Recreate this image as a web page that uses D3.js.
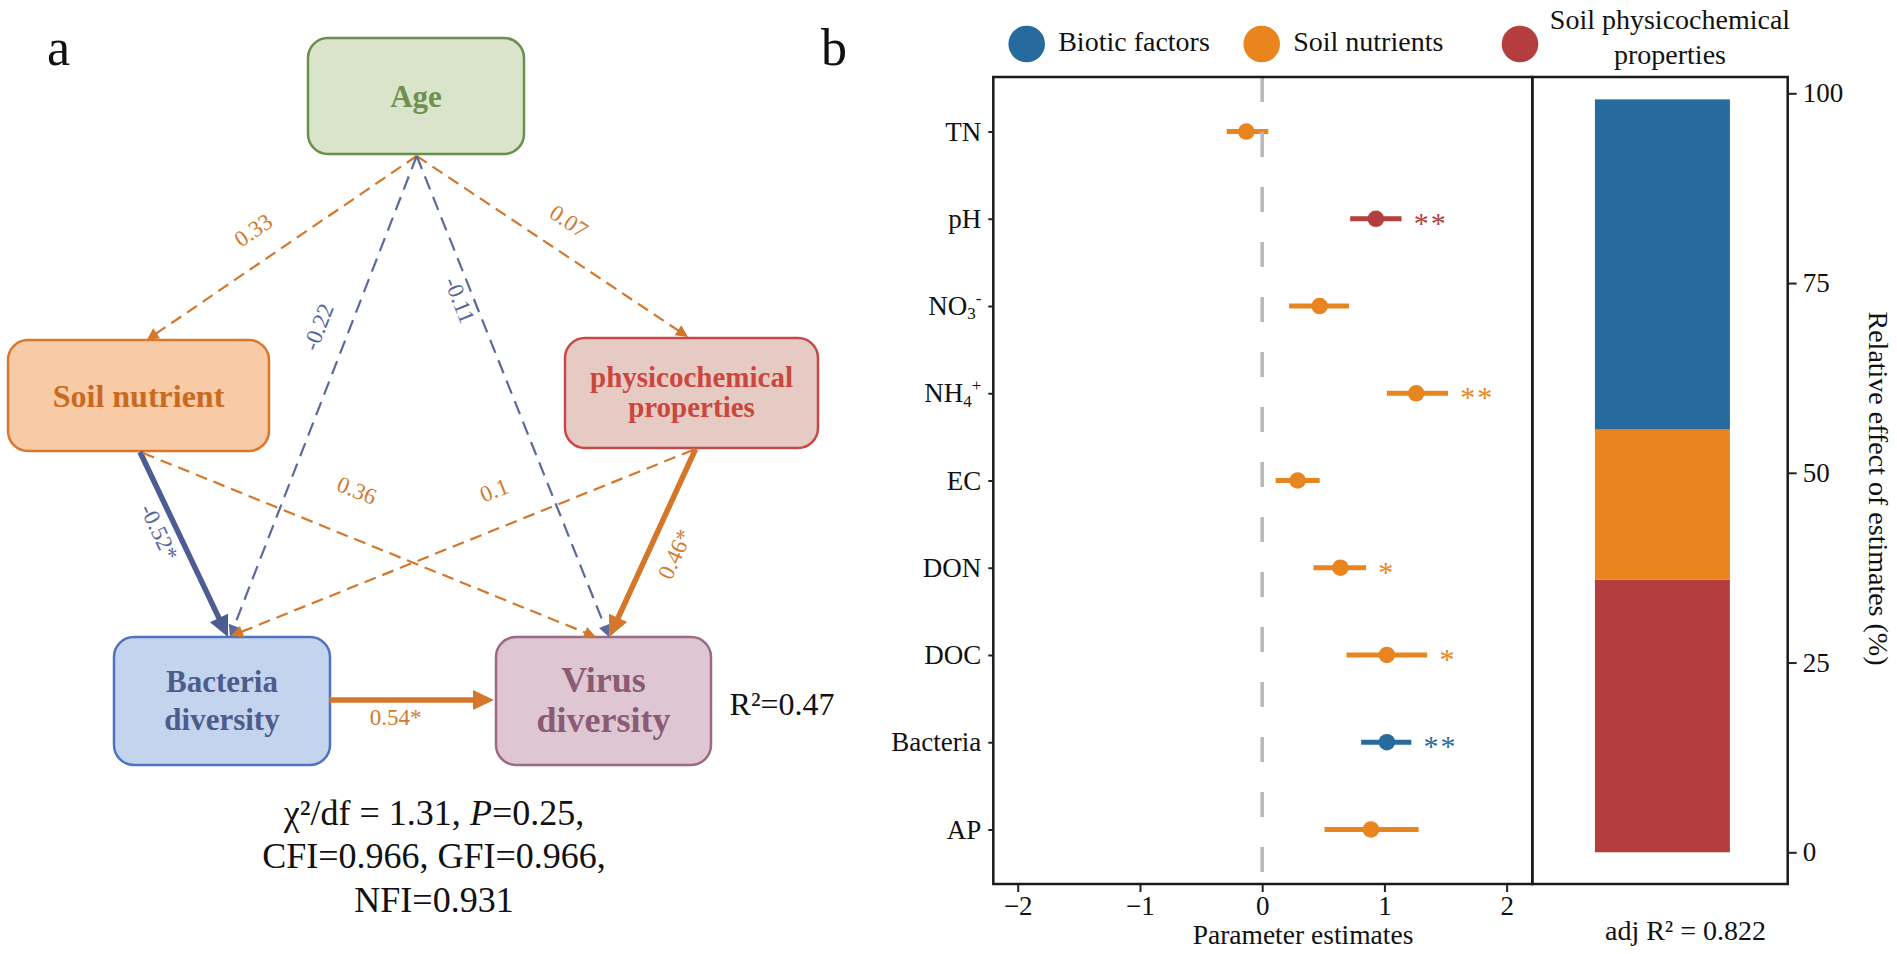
<!DOCTYPE html>
<meta charset="utf-8">
<head>
  <title>SEM of virus diversity and drivers of virus diversity</title>
  <script src="https://cdn.jsdelivr.net/npm/d3@7"></script>
  <style>
    body { margin: 0; background: #fff; }
    text { font-family: "Liberation Serif", "Times New Roman", serif; fill: #111; }
  </style>
</head>
<body>
<script>
// ---------- panel a : structural equation model ----------
var nodeLines = [["Age"], ["Soil nutrient"], ["physicochemical", "properties"], ["Bacteria", "diversity"], ["Virus", "diversity"]];
var pathFrom = [0, 0, 0, 0, 1, 1, 2, 2, 3];
var pathTo   = [1, 2, 3, 4, 3, 4, 3, 4, 4];
var pathCoef = [0.33, 0.07, -0.22, -0.11, -0.52, 0.36, 0.1, 0.46, 0.54];
var pathSig  = [false, false, false, false, true, false, false, true, true];
var virusR2 = 0.47;
var fitChiDf = 1.31, fitP = 0.25, fitCFI = 0.966, fitGFI = 0.966, fitNFI = 0.931;

// ---------- panel b : parameter estimates ----------
var factors  = ["TN", "pH", "NO3-", "NH4+", "EC", "DON", "DOC", "Bacteria", "AP"];
var estimate = [-0.13, 0.93, 0.47, 1.26, 0.29, 0.64, 1.02, 1.02, 0.89];
var lower    = [-0.29, 0.72, 0.22, 1.02, 0.11, 0.42, 0.69, 0.81, 0.51];
var upper    = [0.05, 1.14, 0.71, 1.52, 0.47, 0.85, 1.35, 1.22, 1.28];
var signif   = ["", "**", "", "**", "", "*", "*", "**", ""];
var factorGroup = ["Soil nutrients", "Soil physicochemical properties", "Soil nutrients", "Soil nutrients",
                   "Soil nutrients", "Soil nutrients", "Soil nutrients", "Biotic factors", "Soil nutrients"];
var legendNames = ["Biotic factors", "Soil nutrients", "Soil physicochemical properties"];
var barGroups  = ["Soil physicochemical properties", "Soil nutrients", "Biotic factors"];
var relEffect  = [35.9, 19.8, 43.5];
var adjR2 = 0.822;

var groupColor = d3.scaleOrdinal()
  .domain(["Biotic factors", "Soil nutrients", "Soil physicochemical properties"])
  .range(["#276b9e", "#e8851f", "#b43e3e"]);

var svg = d3.select("body").append("svg")
  .attr("width", 1897).attr("height", 954);

// =============== panel a ===============
var ga = svg.append("g");
ga.append("text").attr("x", 47).attr("y", 65).attr("font-size", 52).text("a");

// box layout (position + styling only)
var boxLayout = [
  {x: 308, y: 38,  w: 216, h: 116, fill: "#d9e4ca", stroke: "#69904a", ink: "#6c9150", fs: 31, base: [107]},
  {x: 8,   y: 340, w: 261, h: 111, fill: "#f8cba6", stroke: "#d9772b", ink: "#c96a20", fs: 32, base: [407]},
  {x: 565, y: 338, w: 253, h: 110, fill: "#e6cbc4", stroke: "#c84848", ink: "#cb463c", fs: 29, base: [387, 417]},
  {x: 114, y: 637, w: 216, h: 128, fill: "#c4d4ee", stroke: "#5073c0", ink: "#4e5c8c", fs: 31, base: [692, 730]},
  {x: 496, y: 637, w: 215, h: 128, fill: "#dfc6d3", stroke: "#9c6b83", ink: "#8b5b74", fs: 36, base: [692, 732]}
];

// arrow endpoints and label placement [x1, y1, x2, y2, labelX, labelY, rotation]
var edgeGeom = [
  [416.7, 156, 146.7, 340, 253, 230, -34.5],
  [416.7, 156, 688, 337, 569, 221, 34],
  [416.7, 156, 230, 637, 318, 327, -68.5],
  [416.7, 156, 609, 637, 460, 300, 68.3],
  [140, 452, 228, 637, 159.5, 532, 64.5],
  [143, 453, 596, 637, 357, 490, 22],
  [693, 450, 231, 636, 494, 490, -22],
  [695.6, 449, 609.3, 637, 674.7, 554, -65.5],
  [329.5, 700, 494, 700, 395.7, 717, 0]
];

var boxes = ga.selectAll("g.node").data(nodeLines).enter().append("g").attr("class", "node");
boxes.append("rect")
  .attr("x", function(d, i) { return boxLayout[i].x; })
  .attr("y", function(d, i) { return boxLayout[i].y; })
  .attr("width", function(d, i) { return boxLayout[i].w; })
  .attr("height", function(d, i) { return boxLayout[i].h; })
  .attr("rx", 20).attr("ry", 20)
  .attr("fill", function(d, i) { return boxLayout[i].fill; })
  .attr("stroke", function(d, i) { return boxLayout[i].stroke; })
  .attr("stroke-width", 2.5);
boxes.each(function(lines, i) {
  var b = boxLayout[i];
  lines.forEach(function(t, k) {
    d3.select(this).append("text")
      .attr("x", b.x + b.w / 2).attr("y", b.base[k])
      .attr("text-anchor", "middle")
      .attr("font-size", b.fs).attr("font-weight", "bold")
      .style("fill", b.ink)
      .text(t);
  }, this);
});

// paths
var edges = ga.append("g");
pathCoef.forEach(function(c, i) {
  var g = edgeGeom[i];
  var neg = c < 0, sig = pathSig[i];
  var col = neg ? (sig ? "#4d5d93" : "#5a6a9e") : "#d4772a";
  var L = sig ? 21 : 12, W = sig ? 10 : 6;
  var dx = g[2] - g[0], dy = g[3] - g[1], len = Math.sqrt(dx * dx + dy * dy);
  var ux = dx / len, uy = dy / len, nx = -uy, ny = ux;
  edges.append("line")
    .attr("x1", g[0]).attr("y1", g[1])
    .attr("x2", g[2] - ux * L * 0.8).attr("y2", g[3] - uy * L * 0.8)
    .attr("stroke", col)
    .attr("stroke-width", sig ? 5.5 : 2.2)
    .attr("stroke-dasharray", sig ? null : (neg ? "14,8" : "12,7"));
  var bx = g[2] - ux * L, by = g[3] - uy * L;
  edges.append("path")
    .attr("d", "M" + g[2] + "," + g[3] + "L" + (bx + nx * W) + "," + (by + ny * W) +
               "L" + (bx - nx * W) + "," + (by - ny * W) + "Z")
    .attr("fill", col);
  edges.append("text")
    .attr("transform", "translate(" + g[4] + "," + g[5] + ") rotate(" + g[6] + ")")
    .attr("text-anchor", "middle").attr("dy", "0.35em")
    .attr("font-size", 23)
    .style("fill", neg ? "#56669b" : "#d27a2c")
    .text(String(c) + (sig ? "*" : ""));
});

ga.append("text").attr("x", 729.6).attr("y", 715).attr("font-size", 32)
  .text("R²=" + virusR2);

var fit = ga.append("g").attr("font-size", 36).attr("text-anchor", "middle");
var l1 = fit.append("text").attr("x", 434).attr("y", 825);
l1.append("tspan").text("χ²/df = " + fitChiDf + ", ");
l1.append("tspan").attr("font-style", "italic").text("P");
l1.append("tspan").text("=" + fitP + ",");
fit.append("text").attr("x", 434).attr("y", 868.3)
  .text("CFI=" + fitCFI + ", GFI=" + fitGFI + ",");
fit.append("text").attr("x", 434).attr("y", 911.7).text("NFI=" + fitNFI);

// =============== panel b ===============
var gb = svg.append("g");
gb.append("text").attr("x", 821).attr("y", 65).attr("font-size", 52).text("b");

var plotL = 993.3, plotM = 1532.3, plotR = 1787.7, plotT = 77, plotB = 884;

var x = d3.scaleLinear().domain([-2.2, 2.21]).range([plotL, plotM]);
var y = d3.scalePoint().domain(factors).range([plotT, plotB]).padding(0.625);

// forest marks
var rows = gb.append("g").selectAll("g").data(factors).enter().append("g");
rows.append("line")
  .attr("x1", function(d, i) { return x(lower[i]); })
  .attr("x2", function(d, i) { return x(upper[i]); })
  .attr("y1", function(d) { return y(d); })
  .attr("y2", function(d) { return y(d); })
  .attr("stroke", function(d, i) { return groupColor(factorGroup[i]); })
  .attr("stroke-width", 5);
rows.append("circle")
  .attr("cx", function(d, i) { return x(estimate[i]); })
  .attr("cy", function(d) { return y(d); })
  .attr("r", 8.3)
  .attr("fill", function(d, i) { return groupColor(factorGroup[i]); });
rows.append("text")
  .attr("x", function(d, i) { return x(upper[i] + 0.1); })
  .attr("y", function(d) { return y(d) + 14; })
  .attr("font-size", 30)
  .attr("letter-spacing", 2)
  .style("fill", function(d, i) { return groupColor(factorGroup[i]); })
  .text(function(d, i) { return signif[i]; });

gb.append("line")
  .attr("x1", x(0)).attr("x2", x(0)).attr("y1", plotT).attr("y2", plotB)
  .attr("stroke", "#b8b8b8").attr("stroke-width", 3.5)
  .attr("stroke-dasharray", "25,30");

// axes
var yAxis = gb.append("g").attr("transform", "translate(" + plotL + ",0)")
  .call(d3.axisLeft(y).tickSize(5).tickPadding(7));
yAxis.selectAll("text").attr("font-size", 27).style("fill", "#111")
  .each(function(d) {
    var m = /^(N[OH])(\d)([+-])$/.exec(d);
    if (!m) return;
    var t = d3.select(this).text("");
    t.append("tspan").text(m[1]);
    t.append("tspan").attr("font-size", 17).attr("dy", "0.25em").text(m[2]);
    t.append("tspan").attr("font-size", 17).attr("dy", "-0.9em").text(m[3]);
  });

var xAxis = gb.append("g").attr("transform", "translate(0," + plotB + ")")
  .call(d3.axisBottom(x).tickValues([-2, -1, 0, 1, 2]).tickSize(8).tickPadding(4).tickFormat(d3.format("d")));
xAxis.selectAll("text").attr("font-size", 27).style("fill", "#111");

// stacked relative effect bar
var yb = d3.scaleLinear().domain([0, 100]).range([852.3, 93.3]);
var xb = d3.scaleBand().domain(["adj"]).range([plotM, plotR]).paddingOuter(0.446).align(0.52);
var row = {};
barGroups.forEach(function(g, i) { row[g] = relEffect[i]; });
var stacked = d3.stack().keys(barGroups)([row]);
gb.append("g").selectAll("rect").data(stacked).enter().append("rect")
  .attr("x", xb("adj")).attr("width", xb.bandwidth())
  .attr("y", function(s) { return yb(s[0][1]); })
  .attr("height", function(s) { return yb(s[0][0]) - yb(s[0][1]); })
  .attr("fill", function(s) { return groupColor(s.key); });

var rAxis = gb.append("g").attr("transform", "translate(" + plotR + ",0)")
  .call(d3.axisRight(yb).tickValues([0, 25, 50, 75, 100]).tickSize(9).tickPadding(6));
rAxis.selectAll("text").attr("font-size", 27).style("fill", "#111");

[yAxis, xAxis, rAxis].forEach(function(a) {
  a.select(".domain").remove();
  a.selectAll(".tick line").attr("stroke", "#222").attr("stroke-width", 2);
});

// frames
gb.append("rect").attr("x", plotL).attr("y", plotT).attr("width", plotM - plotL).attr("height", plotB - plotT)
  .attr("fill", "none").attr("stroke", "#1a1a1a").attr("stroke-width", 2.5);
gb.append("rect").attr("x", plotM).attr("y", plotT).attr("width", plotR - plotM).attr("height", plotB - plotT)
  .attr("fill", "none").attr("stroke", "#1a1a1a").attr("stroke-width", 2.5);

// titles
gb.append("text").attr("x", 1303).attr("y", 944).attr("text-anchor", "middle")
  .attr("font-size", 27.5).text("Parameter estimates");
gb.append("text").attr("x", 1685.5).attr("y", 940).attr("text-anchor", "middle")
  .attr("font-size", 28).text("adj R² = " + adjR2);
gb.append("text").attr("transform", "translate(1879,488.5) rotate(90)")
  .attr("text-anchor", "middle").attr("dy", "0.35em")
  .attr("font-size", 28).text("Relative effect of estimates (%)");

// legend
var legendX = [1026.7, 1261.7, 1520];
var leg = gb.append("g").selectAll("g").data(legendNames).enter().append("g");
leg.append("circle")
  .attr("cx", function(d, i) { return legendX[i]; })
  .attr("cy", 44).attr("r", 18.3)
  .attr("fill", function(d) { return groupColor(d); });
leg.each(function(name, i) {
  var g = d3.select(this);
  if (i < 2) {
    g.append("text").attr("x", legendX[i] + 31.5).attr("y", 51)
      .attr("font-size", 28).text(name);
  } else {
    var words = name.split(" ");
    g.append("text").attr("x", 1670).attr("y", 28.5).attr("text-anchor", "middle")
      .attr("font-size", 28).text(words.slice(0, 2).join(" "));
    g.append("text").attr("x", 1670).attr("y", 63.5).attr("text-anchor", "middle")
      .attr("font-size", 28).text(words.slice(2).join(" "));
  }
});
</script>
</body>
</html>
